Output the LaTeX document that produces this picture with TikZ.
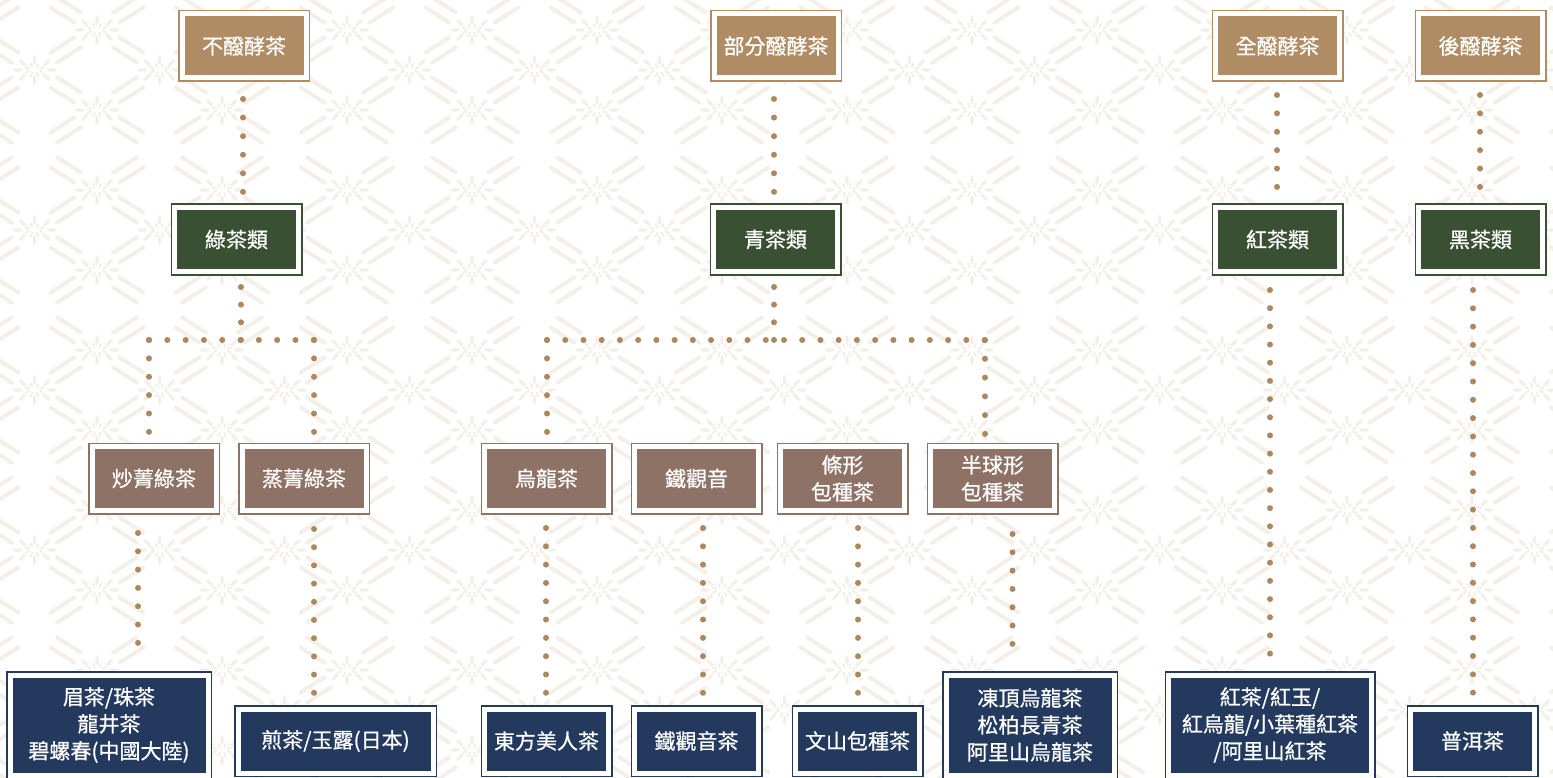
\documentclass[tikz,border=0pt]{standalone}
\usepackage{fontspec}
\newfontfamily\cjk[FakeBold=0.7]{Noto Sans CJK TC}
\definecolor{cTan}{HTML}{B08C64}
\definecolor{cGrn}{HTML}{3A5033}
\definecolor{cMau}{HTML}{8D7265}
\definecolor{cNav}{HTML}{233A5E}
\definecolor{cDot}{HTML}{AD875E}
\definecolor{cPat}{HTML}{F4F0E9}
\tikzset{
  box/.style={fill=#1, draw=#1, double=white, double distance=5pt, line width=1.5pt,
    inner sep=0pt, outer sep=0pt, minimum width=124pt, minimum height=64pt,
    text=white, align=center, font=\cjk\fontsize{21}{27}\selectfont},
  dotline/.style={draw=cDot, line width=6pt, line cap=round, dash pattern=on 0pt off #1pt},
  patline/.style={draw=cPat, line width=4pt, line cap=round, dash pattern=on 28pt off 46.2pt, dash phase=51.1pt},
  flower/.pic={
    \foreach \t in {0,45,...,315}{
      \fill[cPat, shift={({17*cos(\t)},{10*sin(\t)})}, rotate=-\t] (0,0) ellipse (5 and 1.8);
      \fill[cPat, shift={({8*cos(\t+22.5)},{5*sin(\t+22.5)})}, rotate=-\t-22.5] (0,0) ellipse (3 and 1.3);
    }
  }
}
\begin{document}
\begin{tikzpicture}[x=1pt,y=-1pt]
\useasboundingbox (0,0) rectangle (1553,778);
\fill[white] (0,0) rectangle (1553,778);
% background pattern
\begin{scope}
\clip (0,0) rectangle (1553,778);
\foreach \n in {-11,...,13}{
  \foreach \s in {-1,1}{
    \draw[patline] ({-153-3.23*\s},{-290+80*\n+5.05*\s}) -- ++(1875,1200);
  }
}
\foreach \n in {-6,...,18}{
  \foreach \s in {-1,1}{
    \draw[patline] ({-153+3.23*\s},{510+80*\n+5.05*\s}) -- ++(1875,-1200);
  }
}
\foreach \i in {-4,...,9}{
  \foreach \j in {-2,...,9}{
    \pic at ({472+125*\i},{110+80*\j}) {flower};
  }
  \foreach \m in {-1,...,5}{
    \pic at ({409.5+125*\i},{70+160*\m}) {flower};
  }
}
\end{scope}
% nodes
\node[box=cTan] (t1) at (244,46) {不醱酵茶};
\node[box=cTan] (t2) at (776,46) {部分醱酵茶};
\node[box=cTan] (t3) at (1277.5,46) {全醱酵茶};
\node[box=cTan] (t4) at (1480.5,46) {後醱酵茶};
\node[box=cGrn] (g1) at (236.5,239.5) {綠茶類};
\node[box=cGrn] (g2) at (775.5,239.5) {青茶類};
\node[box=cGrn] (g3) at (1277.5,239.5) {紅茶類};
\node[box=cGrn] (g4) at (1480.5,239.5) {黑茶類};
\node[box=cMau] (m1) at (154,478.5) {炒菁綠茶};
\node[box=cMau] (m2) at (304,478.5) {蒸菁綠茶};
\node[box=cMau] (m3) at (546.5,478.5) {烏龍茶};
\node[box=cMau] (m4) at (696.5,478.5) {鐵觀音};
\node[box=cMau] (m5) at (842.5,478.5) {條形\\包種茶};
\node[box=cMau] (m6) at (992.5,478.5) {半球形\\包種茶};
\node[box=cNav, minimum width=198pt, minimum height=100pt] (b1) at (109,725) {眉茶/珠茶\\龍井茶\\碧螺春(中國大陸)};
\node[box=cNav, minimum width=195pt] (b2) at (335.5,741) {煎茶/玉露(日本)};
\node[box=cNav] (b3) at (546.5,741) {東方美人茶};
\node[box=cNav] (b4) at (696.5,741) {鐵觀音茶};
\node[box=cNav] (b5) at (857.5,741) {文山包種茶};
\node[box=cNav, minimum width=168pt, minimum height=100pt] (b6) at (1030,725) {凍頂烏龍茶\\松柏長青茶\\阿里山烏龍茶};
\node[box=cNav, minimum width=203pt, minimum height=100pt] (b7) at (1270,725) {紅茶/紅玉/\\紅烏龍/小葉種紅茶\\/阿里山紅茶};
\node[box=cNav] (b8) at (1472.5,741) {普洱茶};
% junctions
\coordinate (jg) at (241,340);
\coordinate (jgL) at (149,340);
\coordinate (jgR) at (314,340);
\coordinate (jq) at (774,340);
\coordinate (jqL) at (547,340);
\coordinate (jqR) at (985,340);
% connectors
\draw[dotline=18.58] ([shift={(-1,21)}]t1.south) -- ([shift={(6.5,-15.5)}]g1.north);
\draw[dotline=18.58] ([shift={(-2,21)}]t2.south) -- ([shift={(-1.5,-15.5)}]g2.north);
\draw[dotline=18.38] ([shift={(-0.5,17)}]t3.south) -- ([shift={(-0.5,-20.5)}]g3.north);
\draw[dotline=18.38] ([shift={(-0.5,17)}]t4.south) -- ([shift={(-0.5,-20.5)}]g4.north);
\draw[dotline=17.64] ([shift={(4.5,15.5)}]g1.south) -- (jg);
\draw[dotline=18.31] (jgL) -- (jgR);
\draw[dotline=18.38] (jgL) -- ([shift={(-5,-14.5)}]m1.north);
\draw[dotline=18.38] (jgR) -- ([shift={(10,-14.5)}]m2.north);
\draw[dotline=17.64] ([shift={(-1.5,15.5)}]g2.south) -- (jq);
\draw[dotline=18.23] (jqL) -- (jqR);
\draw[dotline=18.38] (jqL) -- ([shift={(0.5,-14.5)}]m3.north);
\draw[dotline=18.78] (jqR) -- ([shift={(-7.5,-12.5)}]m6.north);
\draw[dotline=18.31] ([shift={(-16,22.5)}]m1.south) -- ([shift={(29,-32)}]b1.north);
\draw[dotline=18.2] ([shift={(10,18.5)}]m2.south) -- ([shift={(-21.5,-16)}]b2.north);
\draw[dotline=18.31] ([shift={(-0.5,17.5)}]m3.south) -- ([shift={(-0.5,-16)}]b3.north);
\draw[dotline=18.31] ([shift={(6.5,17.5)}]m4.south) -- ([shift={(6.5,-16)}]b4.north);
\draw[dotline=18.31] ([shift={(15.5,17.5)}]m5.south) -- ([shift={(0.5,-16)}]b5.north);
\draw[dotline=18.31] ([shift={(20,23.5)}]m6.south) -- ([shift={(-17.5,-31)}]b6.north);
\draw[dotline=18.18] ([shift={(-7.5,18.5)}]g3.south) -- ([shift={(0,-21)}]b7.north);
\draw[dotline=18.3] ([shift={(-7.5,18.5)}]g4.south) -- ([shift={(0.5,-16)}]b8.north);
\end{tikzpicture}
\end{document}
